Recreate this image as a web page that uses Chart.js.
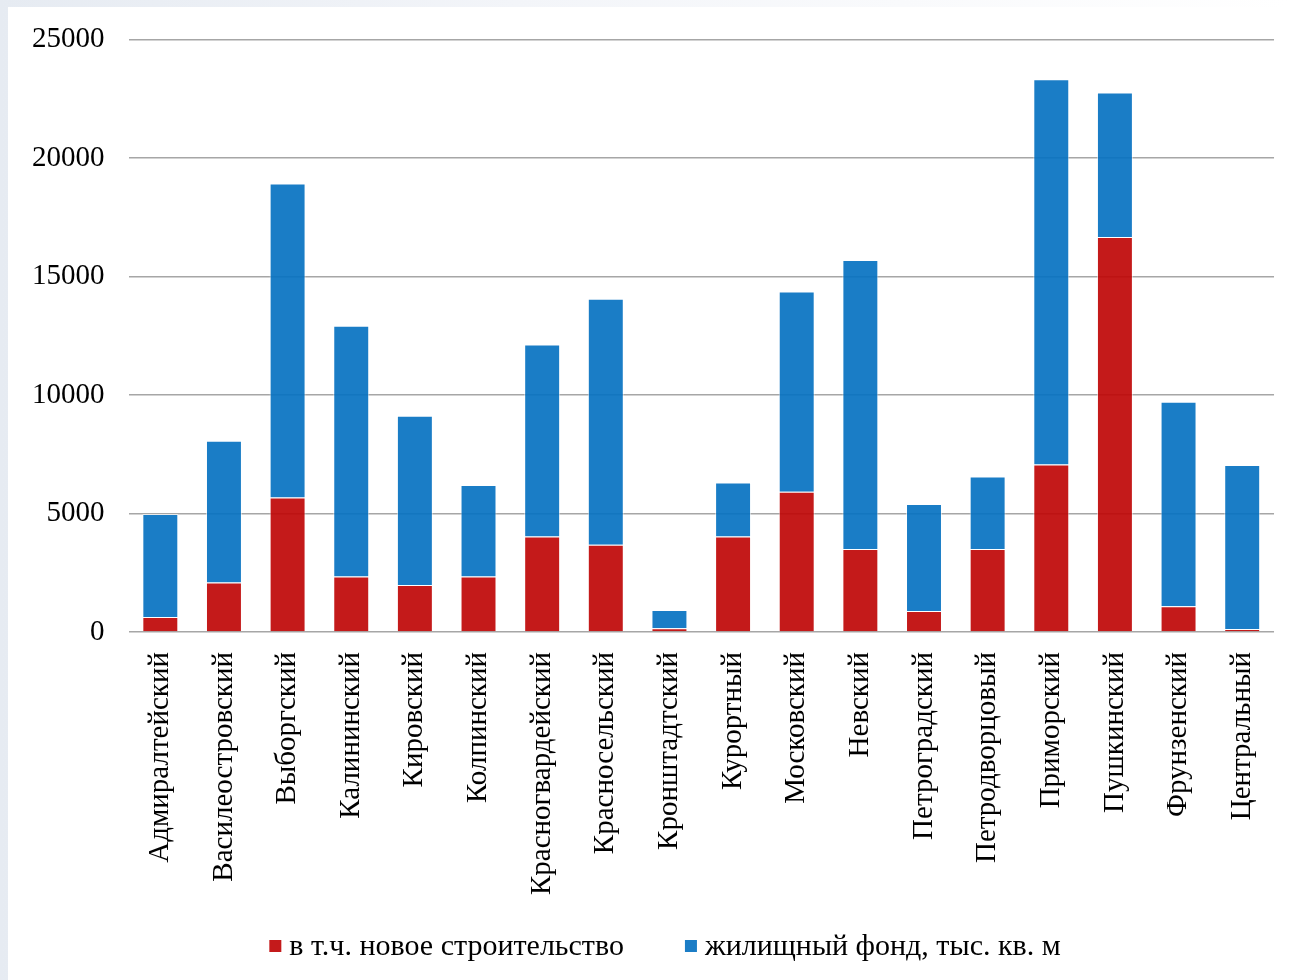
<!DOCTYPE html>
<html>
<head>
<meta charset="utf-8">
<script src="https://cdn.jsdelivr.net/npm/chart.js@4.4.1/dist/chart.umd.min.js"></script>
<style>
  html, body { margin: 0; padding: 0; }
  body { width: 1289px; height: 980px; background: linear-gradient(90deg, #e6ebf2 0%, #f3f5f9 40%, #ffffff 100%); position: relative; overflow: hidden; }
  #wrap { position: absolute; left: 8px; top: 7px; width: 1281px; height: 973px; background: #ffffff; overflow: hidden; }
  canvas { display: block; margin-top: -9px; }
</style>
</head>
<body>
<div id="wrap"><canvas id="c" width="1281" height="982"></canvas></div>
<script>
const categories = ["Адмиралтейский","Василеостровский","Выборгский","Калининский","Кировский","Колпинский","Красногвардейский","Красносельский","Кронштадтский","Курортный","Московский","Невский","Петроградский","Петродворцовый","Приморский","Пушкинский","Фрунзенский","Центральный"];
const housingTotal = [4980, 8070, 18920, 12920, 9120, 6200, 12130, 14060, 930, 6310, 14370, 15690, 5400, 6560, 23320, 22760, 9710, 7050];
const newConstruction = [640, 2090, 5680, 2340, 1990, 2340, 4030, 3680, 160, 4030, 5920, 3500, 890, 3500, 7070, 16660, 1090, 130];
const yTicks = [0, 5000, 10000, 15000, 20000, 25000];
const seriesNames = ["в т.ч. новое строительство", "жилищный фонд, тыс. кв. м"];

// stacked segments: remaining part of the housing stock above new construction
const housingRest = housingTotal.map((t, i) => t - newConstruction[i]);

const family = "'Liberation Serif', 'Times New Roman', serif";
const axisFont = { family: family, size: 29 };
const legendFontSize = 30;

// legend drawn from the chart's own datasets, with spacing like the original
const bottomLegend = {
  id: 'bottomLegend',
  afterDraw(chart) {
    const ctx = chart.ctx;
    ctx.save();
    ctx.font = legendFontSize + 'px ' + family;
    ctx.textBaseline = 'middle';
    const box = 12, gapText = 8, gapItem = 61;
    const items = chart.data.datasets.map(ds => ({ text: ds.label, color: ds.legendColor, w: ctx.measureText(ds.label).width }));
    const total = items.reduce((s, it) => s + box + gapText + it.w, 0) + gapItem * (items.length - 1);
    let x = 657 - total / 2;
    const y = 948;
    items.forEach(it => {
      ctx.fillStyle = it.color;
      ctx.fillRect(x, y - box / 2, box, box);
      ctx.fillStyle = '#000';
      ctx.fillText(it.text, x + box + gapText, y + 1);
      x += box + gapText + it.w + gapItem;
    });
    ctx.restore();
  }
};

new Chart(document.getElementById('c'), {
  type: 'bar',
  data: {
    labels: categories,
    datasets: [
      { label: seriesNames[0], data: newConstruction, backgroundColor: 'rgba(191,6,7,0.92)', legendColor: '#c41a1b', borderColor: 'rgba(255,255,255,0.55)', borderWidth: 1, barPercentage: 0.565, categoryPercentage: 1 },
      { label: seriesNames[1], data: housingRest, backgroundColor: 'rgba(7,114,193,0.92)', legendColor: '#1b7dc6', borderColor: 'rgba(255,255,255,0.55)', borderWidth: 1, barPercentage: 0.565, categoryPercentage: 1 }
    ]
  },
  plugins: [bottomLegend],
  options: {
    responsive: false,
    animation: false,
    layout: { padding: { left: 0, right: 0, top: 8, bottom: 73 } },
    plugins: {
      legend: { display: false },
      tooltip: { enabled: false },
      title: { display: false }
    },
    scales: {
      x: {
        stacked: true,
        grid: { display: false },
        border: { display: false },
        ticks: { font: axisFont, color: '#000', minRotation: 90, maxRotation: 90, autoSkip: false, padding: 12 }
      },
      y: {
        stacked: true,
        min: 0, max: 25000,
        afterBuildTicks: (axis) => { axis.ticks = yTicks.map(v => ({ value: v })); },
        grid: { color: '#a6a6a6', lineWidth: 1.5, drawTicks: false },
        border: { display: false },
        ticks: { font: axisFont, color: '#000', padding: 24, callback: (v) => String(v) }
      }
    }
  }
});
</script>
</body>
</html>
